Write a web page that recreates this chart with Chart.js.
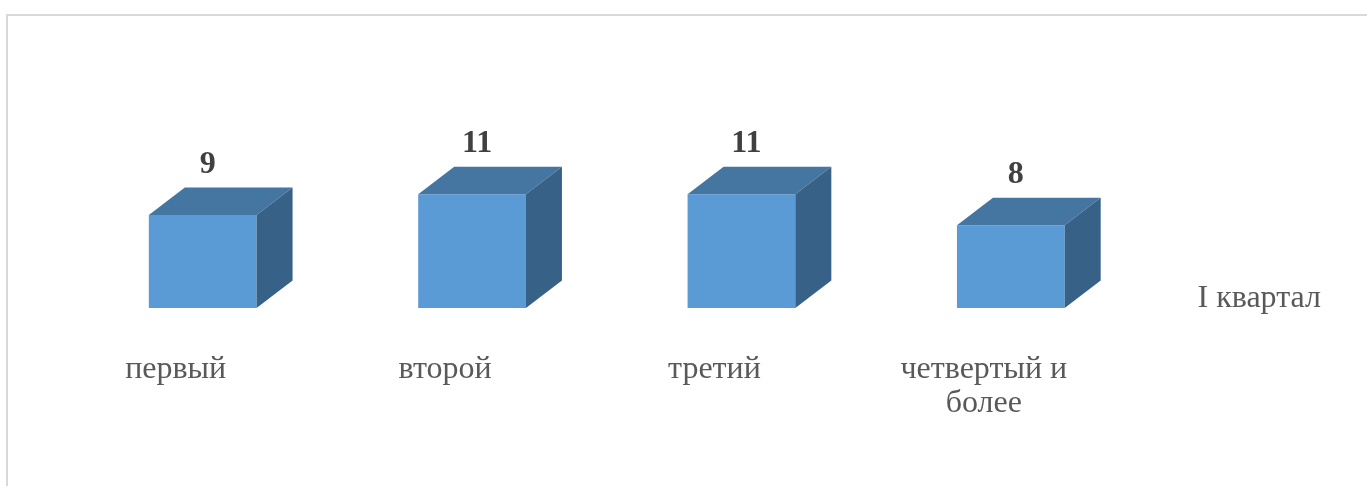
<!DOCTYPE html>
<html>
<head>
<meta charset="utf-8">
<script src="https://cdn.jsdelivr.net/npm/chart.js@4/dist/chart.umd.min.js"></script>
<style>
    body { margin: 0; background: #fff; overflow: hidden; }
    #frame { position: absolute; left: 6px; top: 14px; width: 1400px; height: 500px; border: 2px solid #d9d9d9; }
    #wrap { position: absolute; left: 0; top: 0; width: 1367px; height: 486px; }
</style>
</head>
<body>
<div id="frame"></div>
<div id="wrap"><canvas id="barChart" width="1367" height="486"></canvas></div>
<script>
// data
const categories = ['первый', 'второй', 'третий', ['четвертый и', 'более']]
const seriesName = 'I квартал'
const values = [9, 11, 11, 8]

const frontColor = '#5B9BD5'
const topColor = '#4575A1'
const sideColor = '#386187'
const depthX = 36
const depthY = 27.5
const serif = '"Liberation Serif", "Times New Roman", serif'

// draws top and side faces of each bar plus the value label
const cubePlugin = {
    id: 'cube',
    afterDatasetsDraw(chart) {
        const ctx = chart.ctx
        const meta = chart.getDatasetMeta(0)
        meta.data.forEach((bar, i) => {
            const p = bar.getProps(['x', 'y', 'base', 'width'], true)
            const l = p.x - p.width / 2
            const r = p.x + p.width / 2
            ctx.save()
            ctx.fillStyle = topColor
            ctx.beginPath()
            ctx.moveTo(l, p.y)
            ctx.lineTo(r, p.y)
            ctx.lineTo(r + depthX, p.y - depthY)
            ctx.lineTo(l + depthX, p.y - depthY)
            ctx.closePath()
            ctx.fill()
            ctx.fillStyle = sideColor
            ctx.beginPath()
            ctx.moveTo(r, p.y)
            ctx.lineTo(r + depthX, p.y - depthY)
            ctx.lineTo(r + depthX, p.base - depthY)
            ctx.lineTo(r, p.base)
            ctx.closePath()
            ctx.fill()
            ctx.fillStyle = '#404040'
            ctx.font = 'bold 32px ' + serif
            ctx.textAlign = 'center'
            ctx.textBaseline = 'middle'
            ctx.fillText(String(values[i]), p.x + 5, p.y - depthY - 23)
            ctx.restore()
        })
    }
}

const barChart = new Chart(
    document.getElementById('barChart').getContext('2d'), {
    type: 'bar',
    data: {
        labels: categories,
        datasets: [{
            label: seriesName,
            data: values,
            backgroundColor: frontColor,
            borderWidth: 0,
            categoryPercentage: 1,
            barPercentage: 0.4
        }]
    },
    options: {
        responsive: false,
        animation: false,
        devicePixelRatio: 1,
        layout: {
            padding: { top: 112, left: 68, right: 36, bottom: 0 }
        },
        scales: {
            x: {
                grid: { display: false, drawTicks: false },
                border: { display: false },
                ticks: {
                    color: '#595959',
                    padding: 44,
                    labelOffset: -27,
                    maxRotation: 0,
                    font: { family: serif, size: 32, lineHeight: 1.08 }
                },
                afterFit: (axis) => { axis.height = 178 }
            },
            y: {
                display: false,
                min: 0,
                max: 18.97
            }
        },
        plugins: {
            legend: {
                position: 'right',
                labels: {
                    color: '#595959',
                    boxWidth: 0,
                    boxHeight: 0,
                    padding: 36,
                    font: { family: serif, size: 32 }
                }
            },
            tooltip: { enabled: false }
        }
    },
    plugins: [cubePlugin]
}
)
</script>
</body>
</html>
